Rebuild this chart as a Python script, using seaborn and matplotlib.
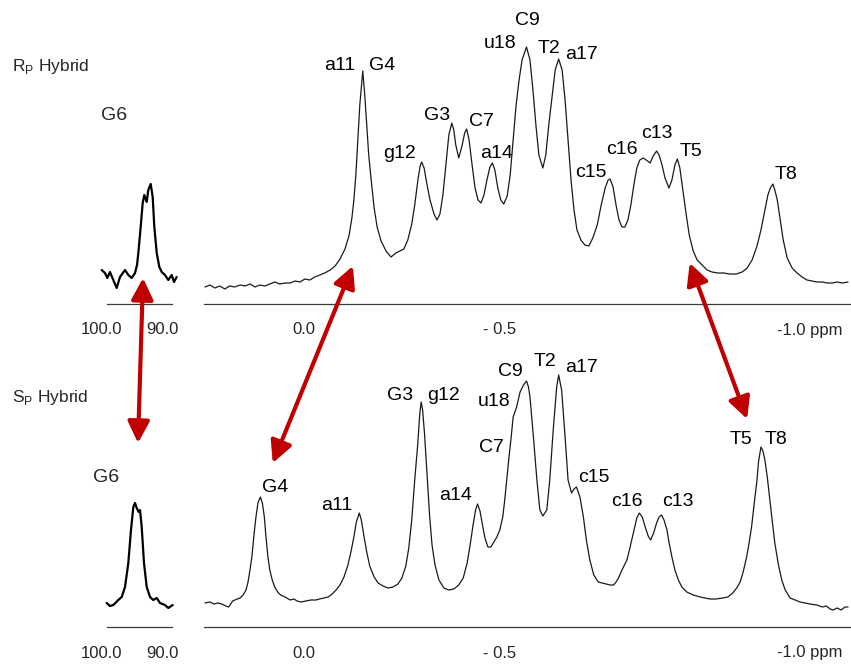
import numpy as np
import pandas as pd
import matplotlib
matplotlib.use("Agg")
import matplotlib.pyplot as plt
import seaborn as sns
from matplotlib.patches import ConnectionPatch
from matplotlib.ticker import MultipleLocator, FixedLocator

# ---------------- data ----------------
# Rp hybrid, main 1H region (ppm, intensity)
rp_ppm = [0.199, 0.189, 0.179, 0.169, 0.159, 0.149, 0.139, 0.128, 0.118, 0.108, 0.098, 0.088, 0.078, 0.068,
          0.058, 0.048, 0.037, 0.027, 0.017, 0.007, -0.003, -0.013, -0.023, -0.033, -0.043, -0.054, -0.064,
          -0.074, -0.084, -0.092, -0.098, -0.102, -0.106, -0.110, -0.114, -0.120, -0.124, -0.128, -0.132,
          -0.137, -0.143, -0.149, -0.157, -0.167, -0.177, -0.187, -0.195, -0.203, -0.211, -0.219, -0.225,
          -0.232, -0.236, -0.239, -0.244, -0.250, -0.256, -0.264, -0.270, -0.276, -0.282, -0.288, -0.294,
          -0.300, -0.304, -0.308, -0.314, -0.321, -0.326, -0.330, -0.335, -0.341, -0.347, -0.353, -0.359,
          -0.365, -0.371, -0.377, -0.382, -0.387, -0.393, -0.399, -0.405, -0.412, -0.418, -0.424, -0.430,
          -0.436, -0.442, -0.451, -0.458, -0.464, -0.470, -0.476, -0.484, -0.490, -0.496, -0.503, -0.509,
          -0.516, -0.523, -0.529, -0.535, -0.541, -0.547, -0.553, -0.561, -0.569, -0.577, -0.585, -0.594,
          -0.602, -0.610, -0.616, -0.620, -0.626, -0.632, -0.638, -0.644, -0.650, -0.656, -0.662, -0.668,
          -0.674, -0.680, -0.687, -0.693, -0.701, -0.707, -0.714, -0.719, -0.725, -0.731, -0.739, -0.745,
          -0.751, -0.756, -0.761, -0.767, -0.774, -0.780, -0.788, -0.796, -0.806, -0.816, -0.826, -0.838,
          -0.850, -0.862, -0.875, -0.887, -0.897, -0.907, -0.917, -0.925, -0.933, -0.939, -0.944, -0.949,
          -0.953, -0.958, -0.964, -0.970, -0.978, -0.988, -0.998, -1.008, -1.018, -1.028, -1.038, -1.049,
          -1.059, -1.069, -1.079, -1.089, -1.101]
rp_int = [17, 19, 16, 18, 15, 18, 17, 19, 18, 20, 17, 19, 18, 20,
          22, 20, 21, 21, 23, 22, 25, 24, 27, 29, 31, 34, 38,
          45, 55, 68, 86, 104, 129, 164, 199, 233, 209, 179, 149,
          124, 96, 77, 63, 53, 47, 51, 53, 55, 64, 80, 99,
          126, 138, 142, 136, 119, 104, 90, 84, 90, 109, 139, 169,
          181, 174, 159, 146, 159, 171, 175, 164, 139, 116, 104, 101,
          109, 124, 137, 141, 134, 116, 104, 100, 108, 129, 164, 199,
          224, 244, 257, 244, 214, 179, 149, 136, 149, 179, 209, 234,
          245, 234, 204, 164, 124, 94, 74, 64, 59, 58, 66, 79,
          99, 116, 124, 125, 117, 99, 84, 77, 77, 84, 99, 119,
          136, 144, 146, 144, 141, 148, 153, 149, 139, 126, 116, 124,
          139, 145, 136, 114, 89, 69, 53, 44, 39, 34, 32, 31,
          31, 30, 30, 32, 36, 44, 58, 74, 94, 109, 116, 120,
          114, 104, 84, 64, 46, 36, 31, 27, 24, 23, 22, 22,
          21, 21, 22, 21, 22]

# Sp hybrid, main 1H region
sp_ppm = [0.199, 0.189, 0.181, 0.173, 0.165, 0.157, 0.151, 0.143, 0.134, 0.128, 0.122, 0.116, 0.112, 0.108,
          0.104, 0.100, 0.096, 0.092, 0.087, 0.083, 0.079, 0.076, 0.072, 0.068, 0.063, 0.058, 0.052, 0.046,
          0.037, 0.027, 0.019, 0.013, 0.005, -0.005, -0.015, -0.025, -0.033, -0.041, -0.050, -0.058, -0.066,
          -0.074, -0.082, -0.090, -0.096, -0.102, -0.107, -0.113, -0.117, -0.122, -0.128, -0.134, -0.143,
          -0.151, -0.161, -0.171, -0.181, -0.191, -0.199, -0.207, -0.213, -0.219, -0.225, -0.231, -0.235,
          -0.238, -0.241, -0.245, -0.250, -0.255, -0.260, -0.266, -0.274, -0.284, -0.294, -0.304, -0.314,
          -0.323, -0.331, -0.337, -0.343, -0.348, -0.352, -0.357, -0.362, -0.367, -0.373, -0.379, -0.385,
          -0.391, -0.397, -0.403, -0.407, -0.411, -0.415, -0.420, -0.424, -0.431, -0.438, -0.445, -0.451,
          -0.455, -0.458, -0.465, -0.472, -0.478, -0.484, -0.492, -0.498, -0.505, -0.512, -0.516, -0.522,
          -0.529, -0.535, -0.542, -0.547, -0.552, -0.559, -0.566, -0.572, -0.579, -0.587, -0.596, -0.604,
          -0.612, -0.620, -0.627, -0.632, -0.637, -0.644, -0.654, -0.660, -0.667, -0.674, -0.679, -0.685,
          -0.691, -0.697, -0.702, -0.708, -0.714, -0.719, -0.724, -0.729, -0.735, -0.739, -0.745, -0.751,
          -0.758, -0.765, -0.775, -0.788, -0.802, -0.812, -0.822, -0.834, -0.848, -0.858, -0.868, -0.876,
          -0.883, -0.889, -0.896, -0.901, -0.906, -0.911, -0.917, -0.920, -0.925, -0.929, -0.933, -0.938,
          -0.943, -0.948, -0.953, -0.960, -0.967, -0.974, -0.984, -0.994, -1.004, -1.014, -1.024, -1.038,
          -1.049, -1.057, -1.065, -1.071, -1.079, -1.087, -1.095, -1.101]
sp_int = [24, 25, 23, 24, 23, 21, 20, 26, 28, 29, 32, 37, 45, 57,
          71, 92, 110, 124, 130, 124, 110, 92, 71, 57, 47, 40, 35, 32,
          30, 27, 28, 26, 25, 26, 27, 27, 28, 29, 30, 33, 37,
          42, 50, 62, 75, 90, 105, 114, 107, 92, 75, 61, 50,
          44, 41, 39, 40, 43, 49, 61, 79, 107, 147, 182, 212,
          225, 217, 192, 152, 112, 82, 62, 47, 39, 37, 38, 42,
          49, 64, 82, 102, 117, 123, 116, 102, 89, 80, 80, 85,
          90, 97, 110, 127, 147, 167, 190, 210, 220, 235, 242, 246,
          240, 230, 190, 147, 117, 111, 117, 147, 197, 240, 252, 237,
          190, 147, 134, 138, 140, 130, 110, 87, 67, 52, 45, 44,
          43, 42, 42, 45, 49, 57, 67, 79, 94, 109, 114, 110,
          100, 91, 87, 94, 104, 110, 112, 107, 97, 85, 70, 57,
          47, 40, 35, 32, 30, 29, 28, 28, 29, 30, 34, 39,
          45, 55, 70, 84, 100, 122, 147, 165, 180, 176, 167, 149,
          127, 105, 84, 63, 47, 37, 29, 27, 25, 24, 23, 22,
          20, 21, 18, 17, 19, 17, 20, 20]

# G6 insets (downfield region)
rp_g6_ppm = [100.82, 100.31, 99.95, 99.54, 99.03, 98.51, 98.00, 97.23, 96.72, 96.20, 95.69, 95.38, 95.18,
             94.82, 94.51, 94.26, 93.89, 93.65, 93.28, 92.97, 92.72, 92.35, 91.95, 91.58, 91.08, 90.57,
             90.05, 89.69, 89.28]
rp_g6_int = [34, 31, 26, 32, 24, 16, 27, 34, 29, 26, 31, 39, 51,
             77, 101, 109, 102, 114, 120, 107, 77, 51, 37, 32, 29, 24,
             29, 22, 27]
sp_g6_ppm = [100.05, 99.54, 99.03, 98.26, 97.74, 97.23, 96.72, 96.31, 95.95, 95.69, 95.43, 95.12, 94.92,
             94.66, 94.31, 93.89, 93.38, 92.88, 92.35, 91.85, 91.08, 90.57, 89.89]
sp_g6_int = [24, 21, 22, 27, 30, 40, 64, 97, 120, 124, 119, 115, 117,
             100, 64, 40, 30, 27, 29, 24, 22, 19, 22]

# peak assignments (label, ppm, height of label)
rp_labels = ["a11", "G4", "g12", "G3", "C7", "a14", "u18", "C9", "T2", "a17", "c15", "c16", "c13", "T5", "T8"]
rp_label_ppm = [-0.074, -0.159, -0.195, -0.270, -0.359, -0.391, -0.397, -0.452, -0.496, -0.563,
                -0.581, -0.644, -0.715, -0.784, -0.976]
rp_label_int = [239, 239, 151, 189, 182, 151, 261, 284, 256, 250, 132, 154, 171, 153, 130]

sp_labels = ["G4", "a11", "G3", "g12", "a14", "C7", "u18", "C9", "T2", "a17", "c15", "c16", "c13", "T5", "T8"]
sp_label_ppm = [0.058, -0.068, -0.195, -0.284, -0.308, -0.381, -0.385, -0.418, -0.488, -0.563,
                -0.587, -0.654, -0.757, -0.885, -0.955]
sp_label_int = [139, 122, 232, 232, 131, 179, 225, 255, 265, 260, 150, 125, 125, 188, 188]

g6_label = "G6"
rp_g6_label_pos = (98.9, 189)
sp_g6_label_pos = (100.15, 150)

main_tick_text = ["0.0", "- 0.5", "-1.0 ppm"]
main_tick_pos = [0.0, -0.397, -1.024]
inset_tick_text = ["100.0", "90.0"]
inset_tick_pos = [100.9, 91.4]

# arrows linking the two spectra: (ppm, intensity) in top panel -> bottom panel
arrow_inset = ((94.46, 26), (95.23, 184))
arrow_main = [((-0.100, 38), (0.062, 164)), ((-0.781, 41), (-0.897, 208))]

# ---------------- drawing ----------------
sns.set_style("white")
plt.rcParams["font.family"] = ["Liberation Sans", "DejaVu Sans"]
plt.rcParams["mathtext.fontset"] = "custom"
plt.rcParams["mathtext.rm"] = "Liberation Sans"

W, H = 851, 666
fig = plt.figure(figsize=(W / 100, H / 100), dpi=100)


def px_axes(x0, x1, ybottom, height):
    return fig.add_axes([x0 / W, (H - ybottom) / H, (x1 - x0) / W, height / H])


ax_top = px_axes(204, 850, 304, 300)
ax_top_s = px_axes(107, 172, 304, 300)
ax_bot = px_axes(204, 850, 627, 300)
ax_bot_s = px_axes(107, 172, 627, 300)

axis_col = "#3a3a3a"
for ax in (ax_top, ax_top_s, ax_bot, ax_bot_s):
    ax.set_facecolor("none")
    for s in ("top", "left", "right"):
        ax.spines[s].set_visible(False)
    ax.spines["bottom"].set_color(axis_col)
    ax.spines["bottom"].set_linewidth(0.9)
    ax.set_ylim(0, 300)
    ax.set_yticks([])
    ax.tick_params(axis="x", which="major", length=6, width=0.8, color=axis_col,
                   direction="out", labelbottom=False)
    ax.tick_params(axis="x", which="minor", length=2.5, width=0.7, color=axis_col, direction="out")

for ax in (ax_top, ax_bot):
    ax.set_xlim(0.201, -1.105)
    ax.xaxis.set_major_locator(MultipleLocator(0.1))
    ax.xaxis.set_minor_locator(MultipleLocator(0.01))
for ax in (ax_top_s, ax_bot_s):
    ax.set_xlim(100, 90)
    ax.xaxis.set_major_locator(FixedLocator([100, 90]))
    ax.xaxis.set_minor_locator(MultipleLocator(1))

line_col = "#1a1a1a"
sns.lineplot(x=rp_ppm, y=rp_int, ax=ax_top, sort=False, estimator=None, color=line_col, lw=0.9)
sns.lineplot(x=sp_ppm, y=sp_int, ax=ax_bot, sort=False, estimator=None, color=line_col, lw=0.9)
sns.lineplot(x=rp_g6_ppm, y=rp_g6_int, ax=ax_top_s, sort=False, estimator=None, color="black",
             lw=1.6, clip_on=False)
sns.lineplot(x=sp_g6_ppm, y=sp_g6_int, ax=ax_bot_s, sort=False, estimator=None, color="black",
             lw=1.6, clip_on=False)
for ax in (ax_top, ax_top_s, ax_bot, ax_bot_s):
    ax.set(xlabel="", ylabel="")

lab_fs = 14
for lab, x, y in zip(rp_labels, rp_label_ppm, rp_label_int):
    ax_top.text(x, y, lab, ha="center", va="center", fontsize=lab_fs, color="black")
for lab, x, y in zip(sp_labels, sp_label_ppm, sp_label_int):
    ax_bot.text(x, y, lab, ha="center", va="center", fontsize=lab_fs, color="black")
ax_top_s.text(*rp_g6_label_pos, g6_label, ha="center", va="center", fontsize=lab_fs, clip_on=False)
ax_bot_s.text(*sp_g6_label_pos, g6_label, ha="center", va="center", fontsize=lab_fs, clip_on=False)

for ax in (ax_top, ax_bot):
    for t, x in zip(main_tick_text, main_tick_pos):
        ax.annotate(t, xy=(x, 0), xycoords=("data", "axes fraction"), xytext=(0, -26),
                    textcoords="offset pixels", ha="center", va="center", fontsize=12)
for ax in (ax_top_s, ax_bot_s):
    for t, x in zip(inset_tick_text, inset_tick_pos):
        ax.annotate(t, xy=(x, 0), xycoords=("data", "axes fraction"), xytext=(0, -26),
                    textcoords="offset pixels", ha="center", va="center", fontsize=12,
                    annotation_clip=False)

fig.text(12 / W, 1 - 67 / H, r"R$_\mathrm{P}$ Hybrid", ha="left", va="center", fontsize=12.5)
fig.text(12 / W, 1 - 397 / H, r"S$_\mathrm{P}$ Hybrid", ha="left", va="center", fontsize=12.5)

red = "#c00000"
style = "<|-|>,head_length=0.65,head_width=0.33"
pairs = [(ax_top_s, ax_bot_s, arrow_inset)] + [(ax_top, ax_bot, a) for a in arrow_main]
for axa, axb, (pa, pb) in pairs:
    con = ConnectionPatch(xyA=pa, coordsA=axa.transData, xyB=pb, coordsB=axb.transData,
                          arrowstyle=style, mutation_scale=20, lw=3.0, color=red,
                          shrinkA=0, shrinkB=0)
    fig.add_artist(con)

fig.savefig("out.png", dpi=100)
